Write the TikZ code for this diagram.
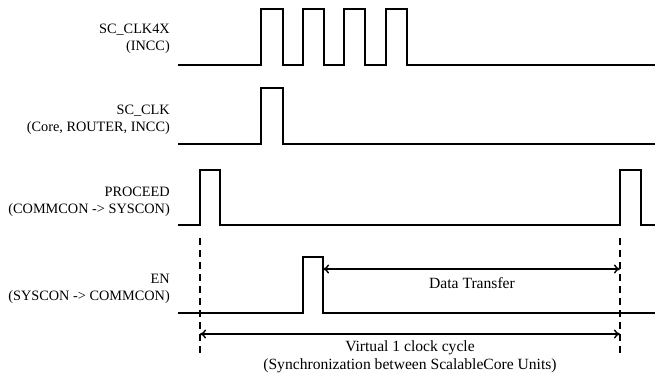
\documentclass[tikz,border=0pt]{standalone}
\usepackage{fontspec}
\setmainfont{Liberation Serif}
\usetikzlibrary{arrows.meta}

\begin{document}
\begin{tikzpicture}[x=1pt,y=-1pt,font=\fontsize{14.3}{17}\selectfont,
  sinal/.style={line width=1.7pt},
  rotulo/.style={align=right,anchor=east,inner sep=0pt},
  legenda/.style={align=center,inner sep=0pt,font=\fontsize{15.6}{18}\selectfont},
  guia/.style={line width=1.5pt,dash pattern=on 7pt off 5pt},
  cota/.style={line width=1.4pt,{To[length=6pt,width=9pt]}-{To[length=6pt,width=9pt]}}]

\useasboundingbox (0,0) rectangle (655,378);

% Nomes dos sinais
\node[rotulo] (clkx) at (170,38.5) {SC\_CLK4X\\(INCC)};
\node[rotulo] (clk) at (170,119.5) {SC\_CLK\\(Core, ROUTER, INCC)};
\node[rotulo] (proceed) at (170,201.5) {PROCEED\\(COMMCON -> SYSCON)};
\node[rotulo] (en) at (170,288.5) {EN\\(SYSCON -> COMMCON)};

% SC_CLK4X
\draw[sinal] (178,65) -- (261,65) -- (261,9) -- (283,9) -- (283,65)
  -- (303,65) -- (303,9) -- (324,9) -- (324,65)
  -- (344,65) -- (344,9) -- (365,9) -- (365,65)
  -- (386,65) -- (386,9) -- (407,9) -- (407,65) -- (656,65);

% SC_CLK
\draw[sinal] (178,144) -- (261,144) -- (261,88) -- (283,88) -- (283,144) -- (656,144);

% PROCEED
\draw[sinal] (178,225) -- (200,225) -- (200,170) -- (220,170) -- (220,225)
  -- (620,225) -- (620,170) -- (641,170) -- (641,225) -- (656,225);

% EN
\draw[sinal] (178,313) -- (303,313) -- (303,257) -- (323,257) -- (323,313) -- (656,313);

% Linhas tracejadas
\coordinate (ini) at (200,238);
\coordinate (fim) at (620,238);
\draw[guia] (ini) -- ++(0,116);
\draw[guia] (fim) -- ++(0,116);

% Setas
\coordinate (dados) at (323,269);
\coordinate (dadosfim) at (620,269);
\coordinate (ciclo) at (200,334);
\coordinate (ciclofim) at (620,334);
\draw[cota] (dados) -- (dadosfim);
\draw[cota] (ciclo) -- (ciclofim);

\node[legenda] (transf) at (472,283) {Data Transfer};
\node[legenda] (virtual) at (410,357) {Virtual 1 clock cycle\\(Synchronization between ScalableCore Units)};

\end{tikzpicture}
\end{document}
